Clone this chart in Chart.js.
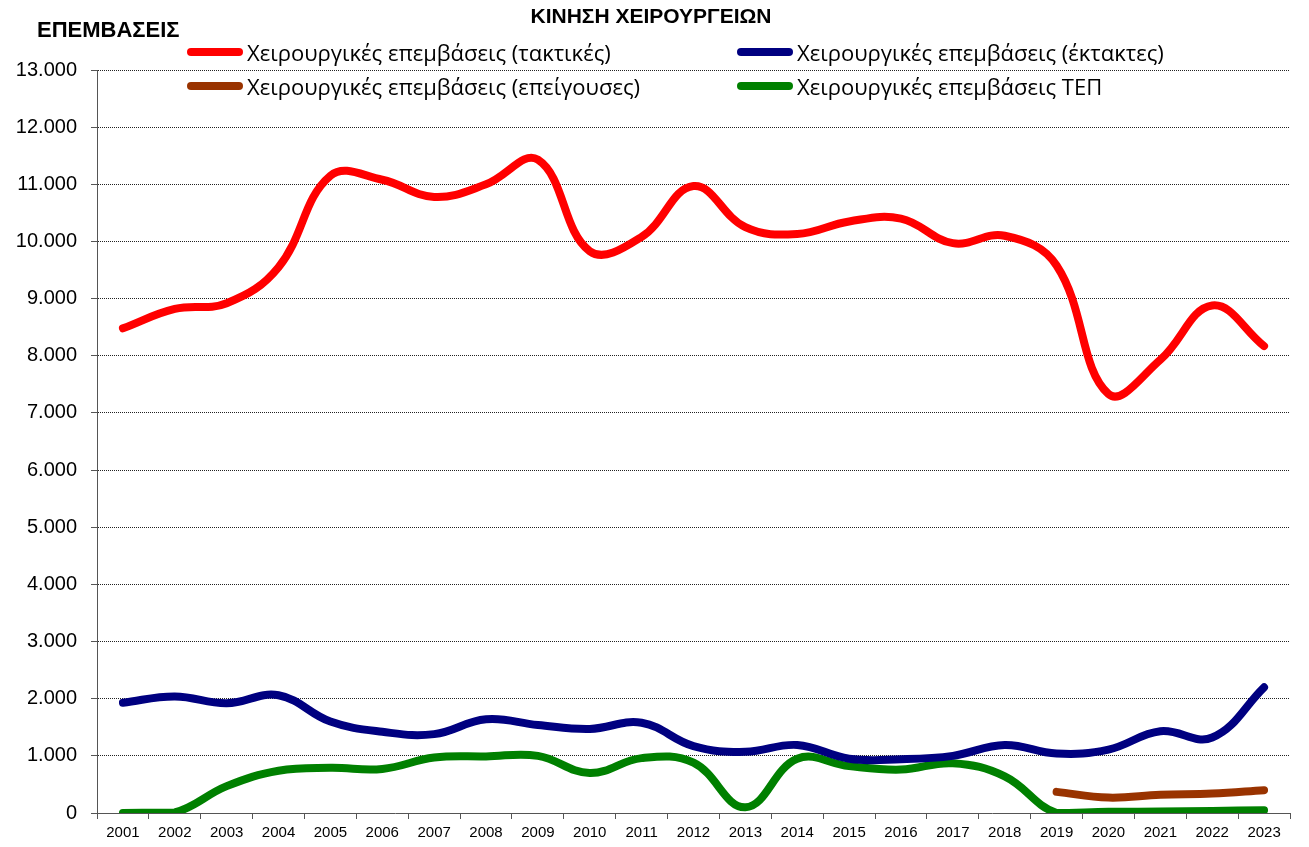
<!DOCTYPE html>
<html>
<head>
<meta charset="utf-8">
<script src="https://cdn.jsdelivr.net/npm/chart.js@4.4.1/dist/chart.umd.min.js"></script>
<style>
  html, body { margin: 0; padding: 0; background: #fff; }
  #wrap { position: relative; width: 1309px; height: 847px; overflow: hidden; }
  canvas { position: absolute; left: 0; top: 0; }
  .txt { position: absolute; white-space: nowrap; color: #000; font-family: "Liberation Sans", Arial, sans-serif; }
  #title { left: 0; width: 1302px; top: 4px; text-align: center; font-weight: bold; font-size: 21px; }
  #ylab { left: 37px; top: 17px; font-weight: bold; font-size: 22px; }
  .leg { position: absolute; height: 26px; display: flex; align-items: center; font-family: "Open Sans", sans-serif; font-size: 22px; color: #000; white-space: nowrap; }
  .leg .sw { width: 56px; height: 8px; border-radius: 4px; margin-right: 4px; }
</style>
</head>
<body>
<div id="wrap">
  <canvas id="c" width="1309" height="847"></canvas>
  <div id="title" class="txt">ΚΙΝΗΣΗ ΧΕΙΡΟΥΡΓΕΙΩΝ</div>
  <div id="ylab" class="txt">ΕΠΕΜΒΑΣΕΙΣ</div>
  <div id="legend"></div>
</div>
<script>
const years = ['2001','2002','2003','2004','2005','2006','2007','2008','2009','2010','2011','2012','2013','2014','2015','2016','2017','2018','2019','2020','2021','2022','2023'];
const tactical  = [8480, 8820, 8920, 9550, 11150, 11080, 10780, 11000, 11430, 9830, 10080, 10970, 10250, 10130, 10350, 10400, 9970, 10100, 9580, 7330, 7930, 8880, 8170];
const emergency = [1930, 2040, 1920, 2060, 1600, 1420, 1380, 1640, 1540, 1470, 1580, 1170, 1070, 1190, 950, 940, 1000, 1190, 1040, 1110, 1430, 1320, 2200];
const urgent    = [null, null, null, null, null, null, null, null, null, null, null, null, null, null, null, null, null, null, 370, 270, 320, 340, 400];
const tep       = [0, 10, 470, 740, 790, 770, 970, 990, 1000, 700, 960, 880, 100, 950, 820, 760, 870, 640, 0, 20, 25, 35, 50];
const yTicks = [0, 1000, 2000, 3000, 4000, 5000, 6000, 7000, 8000, 9000, 10000, 11000, 12000, 13000];

const seriesNames = ['Χειρουργικές επεμβάσεις (τακτικές)', 'Χειρουργικές επεμβάσεις (έκτακτες)', 'Χειρουργικές επεμβάσεις (επείγουσες)', 'Χειρουργικές επεμβάσεις ΤΕΠ'];
const seriesColors = ['#FF0000', '#000080', '#993300', '#008000'];
const seriesData = [tactical, emergency, urgent, tep];

function fmt(v) {
  return v.toString().replace(/\B(?=(\d{3})+(?!\d))/g, '.');
}

const datasets = seriesData.map((d, i) => ({
  label: seriesNames[i],
  data: d,
  borderColor: seriesColors[i],
  backgroundColor: seriesColors[i],
  borderWidth: 8,
  pointRadius: 0,
  pointHoverRadius: 0,
  tension: 0.4,
  borderCapStyle: 'round',
  borderJoinStyle: 'round',
  fill: false,
  spanGaps: false,
  order: i
}));

const chart = new Chart(document.getElementById('c'), {
  type: 'line',
  data: { labels: years, datasets: datasets },
  options: {
    responsive: false,
    animation: false,
    events: [],
    layout: { padding: { top: 70, right: 19, bottom: 0, left: 0 } },
    plugins: { legend: { display: false }, title: { display: false }, tooltip: { enabled: false } },
    scales: {
      x: {
        type: 'category',
        offset: true,
        grid: { offset: true, drawOnChartArea: false, drawTicks: true, tickLength: 6, tickColor: '#555', color: '#555' },
        border: { display: true, color: '#555', width: 1 },
        ticks: { color: '#000', font: { family: 'Liberation Sans', size: 15 }, padding: 5, maxRotation: 0, autoSkip: false },
        afterFit: (s) => { s.height = 34; }
      },
      y: {
        min: 0, max: 13000,
        afterBuildTicks: (s) => { s.ticks = yTicks.map(v => ({ value: v })); },
        grid: {
          color: (ctx) => ctx.tick && ctx.tick.value === 0 ? 'rgba(0,0,0,0)' : '#222',
          lineWidth: 1,
          tickBorderDash: [],
          tickColor: '#555',
          tickLength: 6,
          drawTicks: true
        },
        border: { display: true, color: '#555', width: 1, dash: [1, 1] },
        ticks: { color: '#000', font: { family: 'Liberation Sans', size: 20 }, padding: 14, callback: (v) => fmt(v) },
        afterFit: (s) => { s.width = 97; }
      }
    }
  }
});

// HTML legend built from the chart's datasets
const legendPos = [[187, 39], [737, 39], [187, 73], [737, 73]];
const legEl = document.getElementById('legend');
chart.data.datasets.forEach((ds, i) => {
  const item = document.createElement('div');
  item.className = 'leg';
  item.style.left = legendPos[i][0] + 'px';
  item.style.top = legendPos[i][1] + 'px';
  const sw = document.createElement('div');
  sw.className = 'sw';
  sw.style.background = ds.borderColor;
  const t = document.createElement('span');
  t.textContent = ds.label;
  item.appendChild(sw); item.appendChild(t);
  legEl.appendChild(item);
});
</script>
</body>
</html>
